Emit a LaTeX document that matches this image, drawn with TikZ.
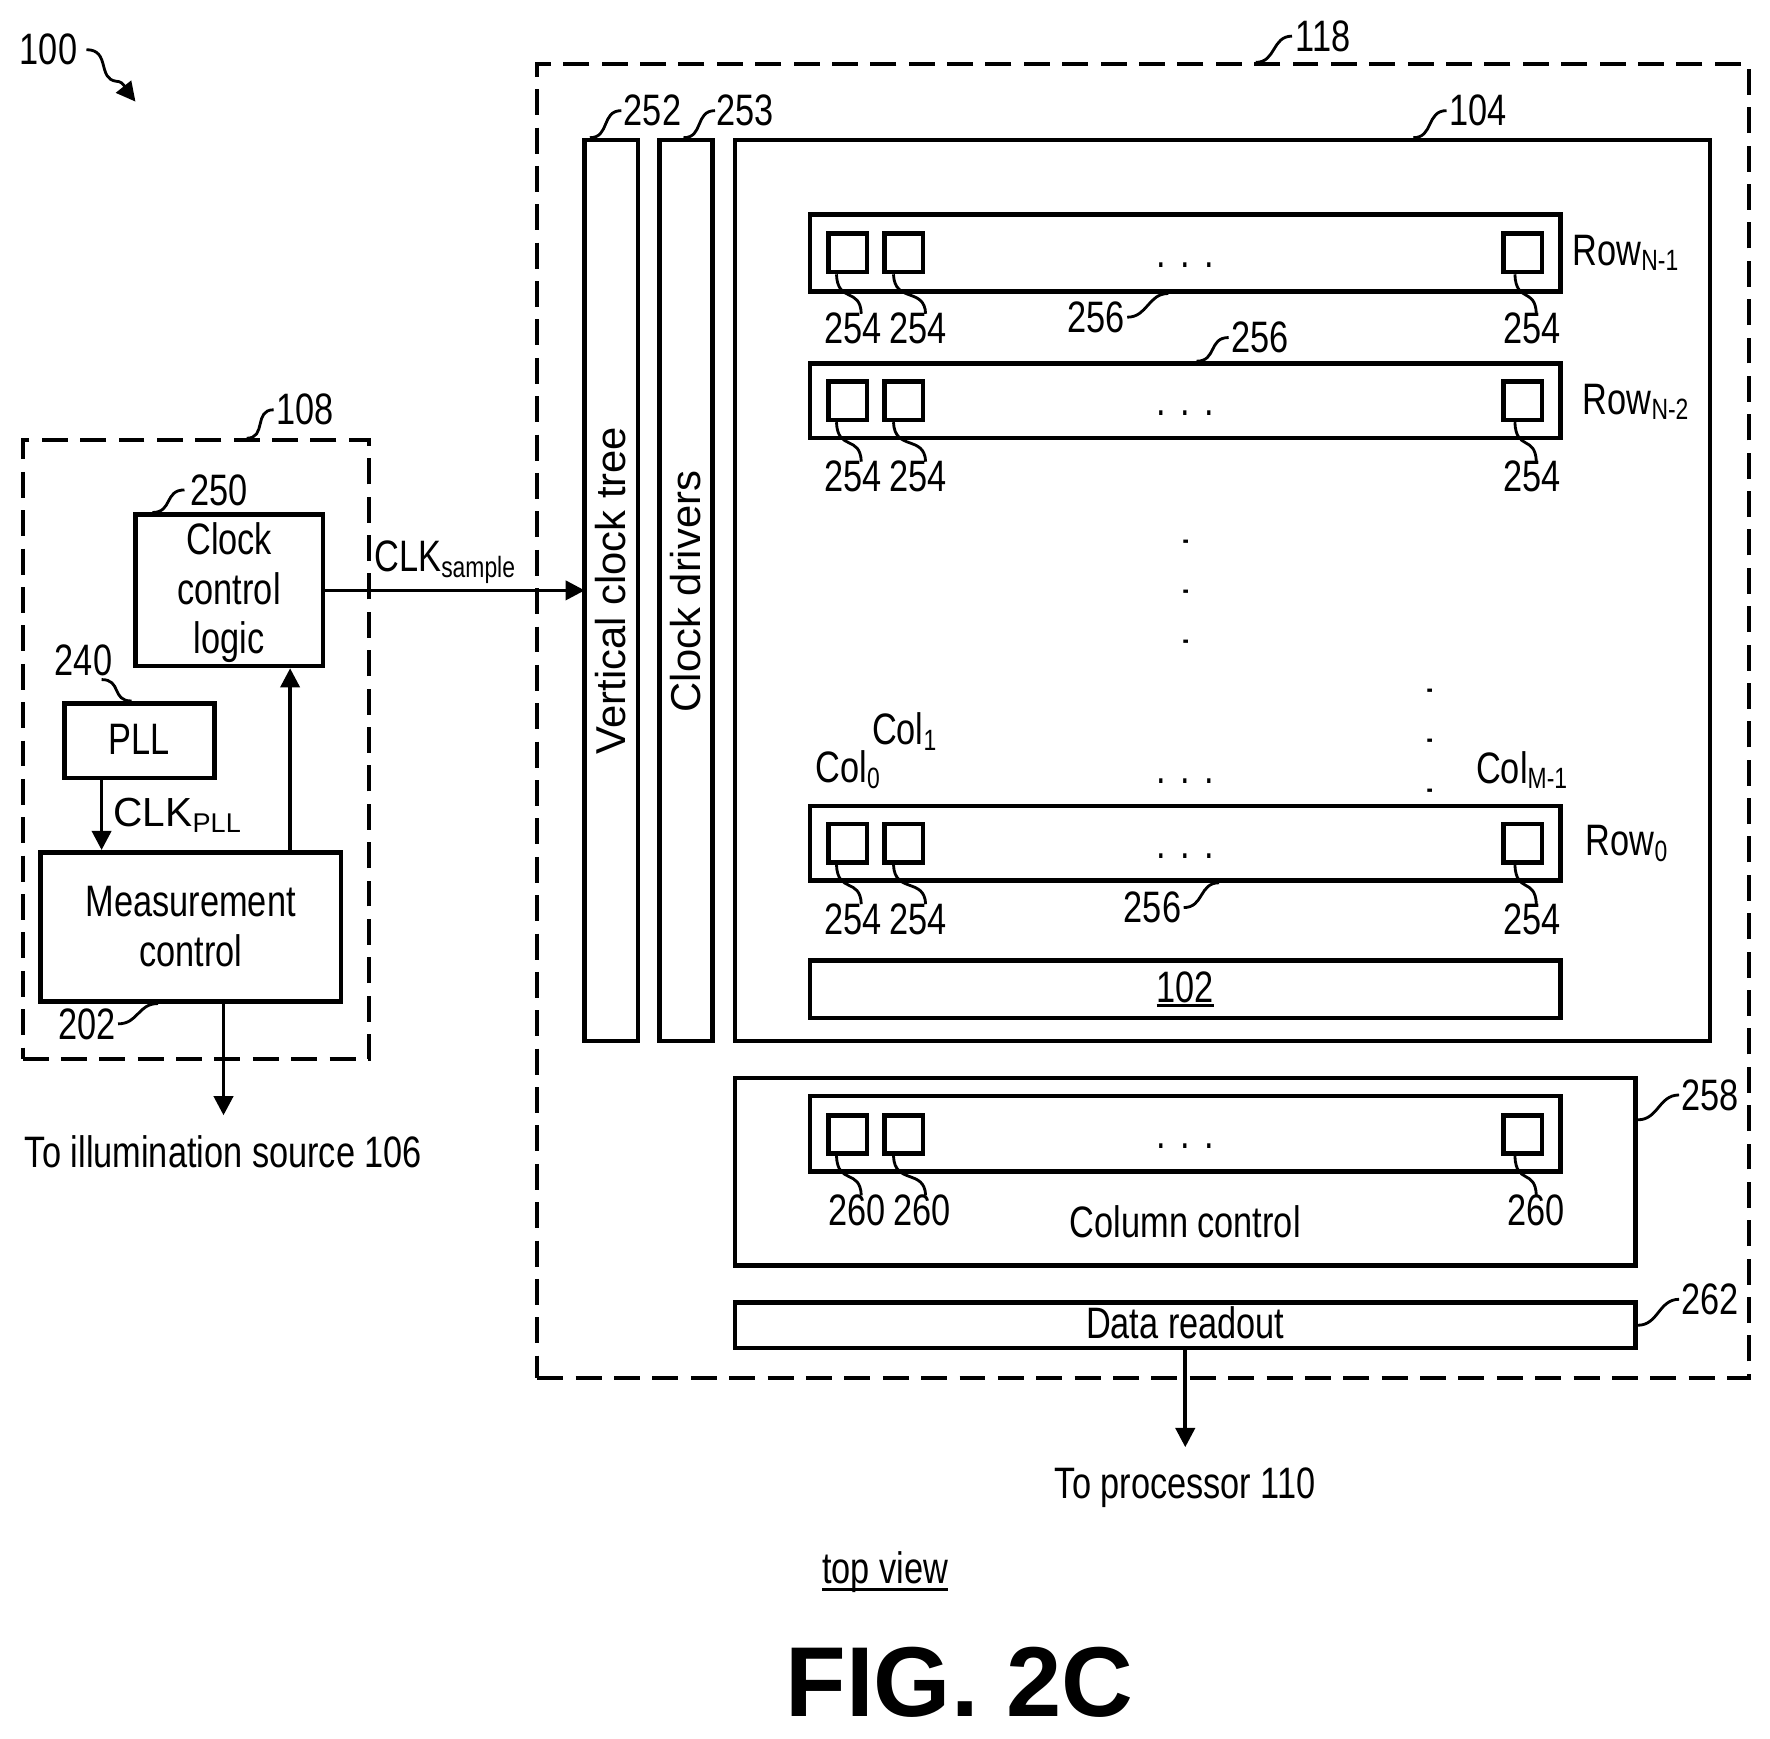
\documentclass[tikz,border=0pt]{standalone}
\usepackage{fontspec}
\usetikzlibrary{arrows.meta}
\setmainfont{Liberation Sans}
\newfontfamily\narrowfont[FakeStretch=0.78]{Liberation Sans}
\newfontfamily\plainfont{Liberation Sans}
\newcommand{\lowtext}[1]{\raisebox{-5pt}{\fontsize{26}{26}\selectfont #1}}
\newcommand{\thickunder}[2]{\vtop{\hbox{#2}\kern#1\hrule height 3pt}}
\newcommand{\rowdots}{.\hspace{13pt}.\hspace{13pt}.}
\newcommand{\coldots}{.\hspace{36pt}.\hspace{36pt}.}
\begin{document}
\begin{tikzpicture}[x=1pt, y=-1pt, >={Triangle[length=17pt,width=17pt]},
    every node/.style={font=\narrowfont\fontsize{39}{44}\selectfont, inner sep=0pt},
    boxnode/.style={draw, shape=rectangle, line width=4pt, align=center},
    cellnode/.style={boxnode, minimum width=34pt, minimum height=34pt},
    rownode/.style={boxnode, minimum width=665pt},
    dashbox/.style={draw, shape=rectangle, line width=3.5pt, dash pattern=on 23pt off 11pt},
    wire/.style={line width=3.2pt},
    leaddown/.style={line width=2.5pt, to path={.. controls +(1,26) and +(-1,-24) .. (\tikztotarget)}},
    leadside/.style={line width=2.5pt, to path={.. controls +(18,0) and +(-18,0) .. (\tikztotarget)}}]
    \useasboundingbox (0,0) rectangle (1568,1540);

    \node[dashbox, minimum width=1073pt, minimum height=1164pt] at (1012.5,639) (sensor) {};
    \node[dashbox, minimum width=307pt, minimum height=548pt] at (173.5,664) (timing) {};

    \node[boxnode, minimum width=166pt, minimum height=134pt] at (203,523) (clock) {};
    \node[align=center] at (203,525) (clocktext) {Clock\\control\\logic};
    \node[boxnode, minimum width=133pt, minimum height=66pt] at (123.5,656) (pll) {};
    \node at (123.5,655) (plltext) {PLL};
    \node[boxnode, minimum width=266pt, minimum height=132pt] at (169,821) (meas) {Measurement\\control};

    \node[boxnode, minimum width=47pt, minimum height=798pt] at (541.5,523) (vtree) {};
    \node[boxnode, minimum width=47pt, minimum height=798pt] at (607.5,523) (drivers) {};
    \node[rotate=90, font=\plainfont\fontsize{37}{44}\selectfont] at (541,523) (vtreetext) {Vertical clock tree};
    \node[rotate=90, font=\plainfont\fontsize{37}{44}\selectfont] at (607,524) (driverstext) {Clock drivers};
    \node[boxnode, minimum width=864pt, minimum height=798pt] at (1083,523) (array) {};

    \node[rownode, minimum height=68pt] at (1050,224) (rowa) {};
    \node[cellnode] at (751,224) (a1) {};
    \node[cellnode] at (800.5,224) (a2) {};
    \node[cellnode] at (1349,224) (a3) {};
    \node[rownode, minimum height=66pt] at (1050,355) (rowb) {};
    \node[cellnode] at (751,355) (b1) {};
    \node[cellnode] at (800.5,355) (b2) {};
    \node[cellnode] at (1349,355) (b3) {};
    \node[rownode, minimum height=66pt] at (1050,747) (rowc) {};
    \node[cellnode] at (751,747) (c1) {};
    \node[cellnode] at (800.5,747) (c2) {};
    \node[cellnode] at (1349,747) (c3) {};
    \node[rownode, minimum height=51pt] at (1050,876.5) (spad) {\thickunder{1pt}{102}};

    \node[boxnode, minimum width=798pt, minimum height=166pt] at (1050,1038) (colctl) {};
    \node[rownode, minimum height=67pt] at (1050,1004.5) (rowd) {};
    \node[cellnode] at (751,1005) (d1) {};
    \node[cellnode] at (800.5,1005) (d2) {};
    \node[cellnode] at (1349,1005) (d3) {};
    \node at (1050,1082) (colctltext) {Column control};
    \node[boxnode, minimum width=798pt, minimum height=40pt] at (1050,1174) (readout) {};
    \node at (1050,1172) (readouttext) {Data readout};

    \node at (43,44) (l100) {100};
    \node at (1172,32) (l118) {118};
    \node at (270,363) (l108) {108};
    \node at (194,434) (l250) {250};
    \node at (74,585) (l240) {240};
    \node at (77,907) (l202) {202};
    \node at (578,98) (l252) {252};
    \node at (660,98) (l253) {253};
    \node at (1309,98) (l104) {104};
    \node at (971,281) (l256a) {256};
    \node at (1116,299) (l256b) {256};
    \node at (1021,804) (l256c) {256};
    \node at (1515,970) (l258) {258};
    \node at (1515,1151) (l262) {262};

    \node at (756,291) (la1) {254};
    \node at (813,291) (la2) {254};
    \node at (1357,291) (la3) {254};
    \node at (756,422) (lb1) {254};
    \node at (813,422) (lb2) {254};
    \node at (1357,422) (lb3) {254};
    \node at (756,814) (lc1) {254};
    \node at (813,814) (lc2) {254};
    \node at (1357,814) (lc3) {254};
    \node at (759,1072) (ld1) {260};
    \node at (817,1072) (ld2) {260};
    \node at (1361,1072) (ld3) {260};

    \node at (1440,224) (namea) {Row\lowtext{N-1}};
    \node at (1449,356) (nameb) {Row\lowtext{N-2}};
    \node at (1441,747) (namec) {Row\lowtext{0}};
    \node at (751,682) (col0) {Col\lowtext{0}};
    \node at (801,648) (col1) {Col\lowtext{1}};
    \node at (1348,682) (colm) {Col\lowtext{M-1}};

    \node at (1050,235) (dotsa) {\rowdots};
    \node at (1050,366) (dotsb) {\rowdots};
    \node at (1050,692) (dotsc) {\rowdots};
    \node at (1050,758) (dotsd) {\rowdots};
    \node at (1050,1015) (dotse) {\rowdots};
    \node[rotate=90] at (1051,524) (dotsv) {\coldots};
    \node[rotate=90] at (1267,656) (dotsw) {\coldots};

    \node at (394,498) (clksample) {CLK\lowtext{sample}};
    \node[font=\plainfont\fontsize{36}{40}\selectfont] at (157,722) (clkpll) {CLK\raisebox{-5pt}{\fontsize{24}{24}\selectfont PLL}};
    \node at (198,1020) (toillum) {To illumination source 106};
    \node at (1050,1318) (toproc) {To processor 110};
    \node at (784,1392) (topview) {\thickunder{-4pt}{top view}};
    \node[font=\plainfont\bfseries\fontsize{88}{96}\selectfont] at (850,1490) (figname) {FIG. 2C};

    \coordinate (pllout) at (90,689);
    \coordinate (measout) at (257,755);
    \coordinate (illumout) at (198,887);
    \coordinate (illumend) at (198,988);
    \coordinate (procend) at (1050,1282);
    \coordinate (curveend) at (120,90);

    \draw[->, wire, shorten >=-2pt] (clock) -- (vtree);
    \draw[->, wire] (pllout) -- (pllout |- meas.north);
    \draw[->, wire] (measout) -- (measout |- clock.south);
    \draw[->, wire] (illumout) -- (illumend);
    \draw[->, wire] (readout.south) -- (procend);
    \draw[->, line width=2.5pt] ([xshift=8pt]l100.east) .. controls (98,44) and (86,70) .. (103,72) .. controls (110,72) and (112,80) .. (curveend);

    \draw[leadside] ([xshift=100pt]sensor.north) to ([xshift=-3pt]l118.west);
    \draw[leadside] ([xshift=45pt]timing.north) to ([xshift=-2pt]l108.west);
    \draw[leadside] ([xshift=-68pt]clock.north) to ([xshift=-5pt]l250.west);
    \draw[leadside] ([xshift=16pt,yshift=-3pt]l240.south) to ([xshift=-7pt]pll.north);
    \draw[leadside] ([xshift=2pt]l202.east) to ([xshift=-29pt]meas.south);
    \draw[leadside] ([xshift=-19pt]vtree.north) to ([xshift=-2pt]l252.west);
    \draw[leadside] ([xshift=-2pt]drivers.north) to ([xshift=-1pt]l253.west);
    \draw[leadside] ([xshift=169pt]array.north) to ([xshift=-2pt]l104.west);
    \draw[leadside] ([xshift=2pt]l256a.east) to ([xshift=-15pt]rowa.south);
    \draw[leadside] ([xshift=10pt]rowb.north) to ([xshift=-2pt]l256b.west);
    \draw[leadside] ([xshift=2pt]l256c.east) to ([xshift=30pt]rowc.south);
    \draw[leadside] ([yshift=46pt]colctl.east) to ([xshift=-2pt]l258.west);
    \draw[leadside] (readout.east) to ([xshift=-2pt]l262.west);

    \draw[leaddown] ([xshift=-10pt]a1.south) to ([xshift=7pt,yshift=-1pt]la1.north);
    \draw[leaddown] ([xshift=-9pt]a2.south) to ([xshift=7pt,yshift=-1pt]la2.north);
    \draw[leaddown] ([xshift=-7pt]a3.south) to ([xshift=4pt,yshift=-1pt]la3.north);
    \draw[leaddown] ([xshift=-10pt]b1.south) to ([xshift=7pt,yshift=-1pt]lb1.north);
    \draw[leaddown] ([xshift=-9pt]b2.south) to ([xshift=7pt,yshift=-1pt]lb2.north);
    \draw[leaddown] ([xshift=-7pt]b3.south) to ([xshift=4pt,yshift=-1pt]lb3.north);
    \draw[leaddown] ([xshift=-10pt]c1.south) to ([xshift=7pt,yshift=-1pt]lc1.north);
    \draw[leaddown] ([xshift=-9pt]c2.south) to ([xshift=7pt,yshift=-1pt]lc2.north);
    \draw[leaddown] ([xshift=-7pt]c3.south) to ([xshift=4pt,yshift=-1pt]lc3.north);
    \draw[leaddown] ([xshift=-10pt]d1.south) to ([xshift=4pt,yshift=-1pt]ld1.north);
    \draw[leaddown] ([xshift=-9pt]d2.south) to ([xshift=3pt,yshift=-1pt]ld2.north);
    \draw[leaddown] ([xshift=-7pt]d3.south) to ([xshift=0pt,yshift=-1pt]ld3.north);
\end{tikzpicture}
\end{document}
